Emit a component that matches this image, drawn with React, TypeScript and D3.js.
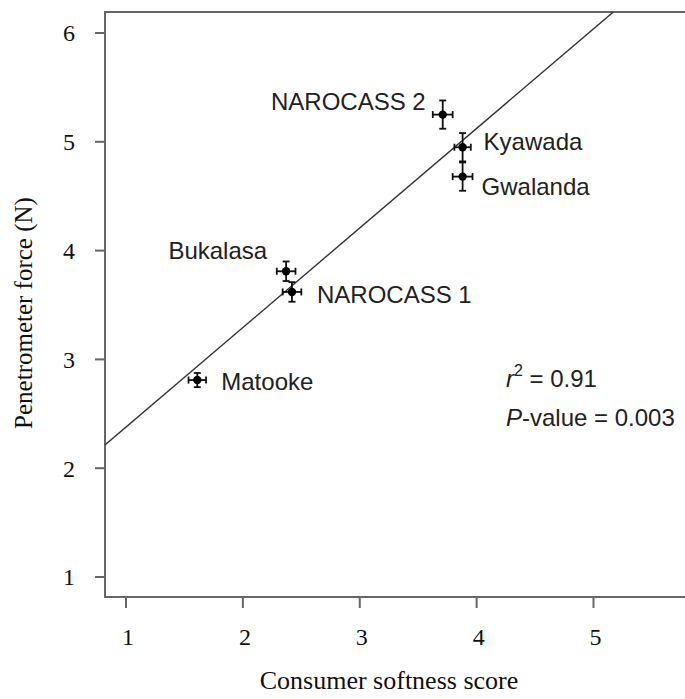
import React from "react";
import * as d3 from "d3";

// Cultivars and their mean scores with standard errors
const cultivars = ["Matooke", "Bukalasa", "NAROCASS 1", "NAROCASS 2", "Kyawada", "Gwalanda"];
const softness = [1.61, 2.37, 2.42, 3.71, 3.88, 3.88];
const force = [2.81, 3.81, 3.62, 5.25, 4.95, 4.68];
const softnessErr = [0.075, 0.08, 0.08, 0.085, 0.07, 0.085];
const forceErr = [0.065, 0.09, 0.09, 0.13, 0.13, 0.13];

const xTicks = [1, 2, 3, 4, 5];
const yTicks = [1, 2, 3, 4, 5, 6];

// Fitted regression: force = intercept + slope * softness
const intercept = 1.463;
const slope = 0.915;
const statR2 = "0.91";
const statP = "0.003";

// Label placement relative to each point (pixels)
const labelLayout: { dx: number; dy: number; anchor: "start" | "end" }[] = [
  { dx: 24, dy: 10, anchor: "start" },
  { dx: -19, dy: -12, anchor: "end" },
  { dx: 25, dy: 11, anchor: "start" },
  { dx: -17, dy: -5, anchor: "end" },
  { dx: 21, dy: 3, anchor: "start" },
  { dx: 19, dy: 18, anchor: "start" },
];

const W = 685;
const H = 699;
const frame = { left: 105, top: 12, right: 700, bottom: 597 };

export default function App() {
  const x = d3.scaleLinear().domain([1, 5]).range([126, 593.5]);
  const y = d3.scaleLinear().domain([1, 6]).range([577, 33]);

  const xMin = x.invert(frame.left);
  const xMax = x.invert(W);
  const fitLine = d3
    .line<number>()
    .x((d) => x(d))
    .y((d) => y(intercept + slope * d));

  const axisColor = "#666";
  const serif = "'Liberation Serif', 'Times New Roman', serif";
  const sans = "'Liberation Sans', Arial, sans-serif";
  const cap = 3.5;

  return (
    <svg
      width={W}
      height={H}
      style={{ position: "absolute", left: 0, top: 0, background: "#fff" }}
    >
      <defs>
        <clipPath id="plot-clip">
          <rect
            x={frame.left}
            y={frame.top}
            width={frame.right - frame.left}
            height={frame.bottom - frame.top}
          />
        </clipPath>
      </defs>

      {/* plot frame */}
      <rect
        x={frame.left}
        y={frame.top}
        width={frame.right - frame.left}
        height={frame.bottom - frame.top}
        fill="none"
        stroke={axisColor}
        strokeWidth={2}
      />

      {/* y ticks */}
      {yTicks.map((t) => (
        <g key={"y" + t}>
          <line x1={frame.left - 10} x2={frame.left} y1={y(t)} y2={y(t)} stroke={axisColor} strokeWidth={2} />
          <text
            x={75}
            y={y(t)}
            dy="0.35em"
            textAnchor="end"
            fontFamily={serif}
            fontSize={24}
            fill="#111"
          >
            {t}
          </text>
        </g>
      ))}

      {/* x ticks */}
      {xTicks.map((t) => (
        <g key={"x" + t}>
          <line x1={x(t)} x2={x(t)} y1={frame.bottom} y2={frame.bottom + 11} stroke={axisColor} strokeWidth={2} />
          <text
            x={x(t) + 2}
            y={645}
            textAnchor="middle"
            fontFamily={serif}
            fontSize={24}
            fill="#111"
          >
            {t}
          </text>
        </g>
      ))}

      {/* axis titles */}
      <text
        x={389}
        y={689}
        textAnchor="middle"
        fontFamily={serif}
        fontSize={26}
        fill="#111"
      >
        Consumer softness score
      </text>
      <text
        transform={`translate(32, 313) rotate(-90)`}
        textAnchor="middle"
        fontFamily={serif}
        fontSize={25}
        fill="#111"
      >
        Penetrometer force (N)
      </text>

      {/* regression line */}
      <g clipPath="url(#plot-clip)">
        <path d={fitLine([xMin, xMax]) || ""} fill="none" stroke="#333" strokeWidth={1.4} />
      </g>

      {/* points with error bars */}
      {cultivars.map((name, i) => {
        const cx = x(softness[i]);
        const cy = y(force[i]);
        const y0 = y(force[i] - forceErr[i]);
        const y1 = y(force[i] + forceErr[i]);
        const x0 = x(softness[i] - softnessErr[i]);
        const x1 = x(softness[i] + softnessErr[i]);
        const lab = labelLayout[i];
        return (
          <g key={name}>
            <g stroke="#111" strokeWidth={1.8}>
              <line x1={cx} x2={cx} y1={y0} y2={y1} />
              <line x1={cx - cap} x2={cx + cap} y1={y0} y2={y0} />
              <line x1={cx - cap} x2={cx + cap} y1={y1} y2={y1} />
              <line x1={x0} x2={x1} y1={cy} y2={cy} />
              <line x1={x0} x2={x0} y1={cy - cap} y2={cy + cap} />
              <line x1={x1} x2={x1} y1={cy - cap} y2={cy + cap} />
            </g>
            <circle cx={cx} cy={cy} r={4.2} fill="#000" />
            <text
              x={cx + lab.dx}
              y={cy + lab.dy}
              textAnchor={lab.anchor}
              fontFamily={sans}
              fontSize={24}
              fill="#222"
            >
              {name}
            </text>
          </g>
        );
      })}

      {/* fit statistics */}
      <text x={506} y={387} fontFamily={sans} fontSize={24} fill="#222">
        <tspan fontStyle="italic">r</tspan>
        <tspan fontSize={16} dy={-11}>2</tspan>
        <tspan dy={11}>{" = " + statR2}</tspan>
      </text>
      <text x={506} y={426} fontFamily={sans} fontSize={24} fill="#222">
        <tspan fontStyle="italic">P</tspan>
        <tspan>{"-value = " + statP}</tspan>
      </text>
    </svg>
  );
}
